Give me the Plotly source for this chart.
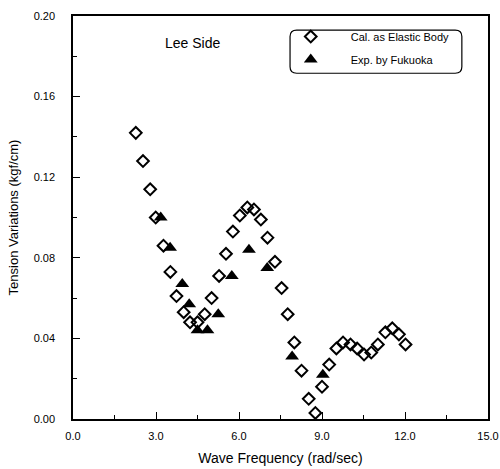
import plotly.graph_objects as go

# Calculated tension variation (elastic body model)
cal_freq = [2.27, 2.53, 2.79, 2.99, 3.27, 3.52, 3.74, 4.00, 4.23, 4.50, 4.76,
            5.01, 5.28, 5.53, 5.78, 6.03, 6.30, 6.54, 6.79, 7.03, 7.30, 7.54,
            7.76, 8.00, 8.26, 8.52, 8.76, 9.00, 9.26, 9.52, 9.76, 10.03, 10.27,
            10.52, 10.78, 11.02, 11.29, 11.54, 11.78, 12.02]
cal_tension = [0.142, 0.128, 0.114, 0.100, 0.086, 0.073, 0.061, 0.053, 0.048,
               0.048, 0.052, 0.060, 0.071, 0.082, 0.093, 0.101, 0.105, 0.104,
               0.099, 0.090, 0.078, 0.065, 0.052, 0.038, 0.024, 0.010, 0.003,
               0.016, 0.027, 0.035, 0.038, 0.037, 0.035, 0.032, 0.033, 0.037,
               0.043, 0.045, 0.042, 0.037]

# Measured tension variation (experiment)
exp_freq = [3.17, 3.51, 3.95, 4.20, 4.50, 4.86, 5.25, 5.74, 6.36, 7.02, 7.92, 9.03]
exp_tension = [0.100, 0.085, 0.067, 0.057, 0.044, 0.044, 0.052, 0.071, 0.084,
               0.075, 0.031, 0.022]

x_ticks = [0, 3, 6, 9, 12, 15]
x_tick_text = ["0.0", "3.0", "6.0", "9.0", "12.0", "15.0"]
y_ticks = [0.00, 0.04, 0.08, 0.12, 0.16, 0.20]
y_tick_text = ["0.00", "0.04", "0.08", "0.12", "0.16", "0.20"]

FONT = "Liberation Sans Narrow, Arial Narrow, Liberation Sans, Arial, sans-serif"
SANS = "Liberation Sans, Arial, sans-serif"

fig = go.Figure()
fig.add_trace(go.Scatter(
    x=cal_freq, y=cal_tension, mode="markers", name="Cal. as Elastic Body",
    legendgroup="cal",
    marker=dict(symbol="diamond-open", size=9, color="black",
                line=dict(color="black", width=2)),
    cliponaxis=False,
))
fig.add_trace(go.Scatter(
    x=exp_freq, y=exp_tension, mode="markers", name="Exp. by Fukuoka",
    legendgroup="exp",
    marker=dict(symbol="triangle-up", size=12, color="black"),
    cliponaxis=False,
))

axis_common = dict(
    showgrid=False, zeroline=False, showline=True, linecolor="black",
    linewidth=1.5, mirror=True, ticks="inside", tickcolor="black",
    tickwidth=1.3, automargin=False,
    tickfont=dict(family=FONT, size=11, color="black"),
)

fig.update_xaxes(
    range=[0, 15], tickvals=x_ticks, ticktext=x_tick_text, ticklen=7,
    minor=dict(dtick=1.5, ticks="inside", ticklen=4, tickcolor="black"),
    title=dict(text="Wave Frequency (rad/sec)", standoff=12,
               font=dict(family=SANS, size=14, color="black")),
    ticklabelstandoff=6,
    **axis_common,
)
fig.update_yaxes(
    range=[0, 0.2], tickvals=y_ticks, ticktext=y_tick_text, ticklen=7,
    minor=dict(dtick=0.02, ticks="inside", ticklen=4, tickcolor="black"),
    title=dict(text="Tension Variations (kgf/cm)", standoff=12,
               font=dict(family=SANS, size=13, color="black")),
    ticklabelstandoff=14,
    **axis_common,
)

# rounded frame around the legend
x0, x1, y0, y1 = 0.523, 0.937, 0.858, 0.965
rx, ry = 0.016, 0.016
path = (f"M {x0+rx},{y1} L {x1-rx},{y1} Q {x1},{y1} {x1},{y1-ry} "
        f"L {x1},{y0+ry} Q {x1},{y0} {x1-rx},{y0} L {x0+rx},{y0} "
        f"Q {x0},{y0} {x0},{y0+ry} L {x0},{y1-ry} Q {x0},{y1} {x0+rx},{y1} Z")
fig.add_shape(type="path", path=path, xref="paper", yref="paper",
              line=dict(color="black", width=1.2))

fig.add_annotation(text="Lee Side", x=0.289, y=0.933, xref="paper",
                   yref="paper", xanchor="center", yanchor="middle",
                   showarrow=False,
                   font=dict(family=SANS, size=14, color="black"))

fig.update_layout(
    width=500, height=469,
    margin=dict(l=73, r=12, t=16, b=50, autoexpand=False),
    plot_bgcolor="white", paper_bgcolor="white",
    legend=dict(x=0.4765, y=0.985, xanchor="left", yanchor="top",
                bgcolor="rgba(0,0,0,0)", borderwidth=0, itemwidth=70,
                tracegroupgap=4,
                font=dict(family=SANS, size=11, color="black")),
    showlegend=True,
)

fig.write_html("out.html")
